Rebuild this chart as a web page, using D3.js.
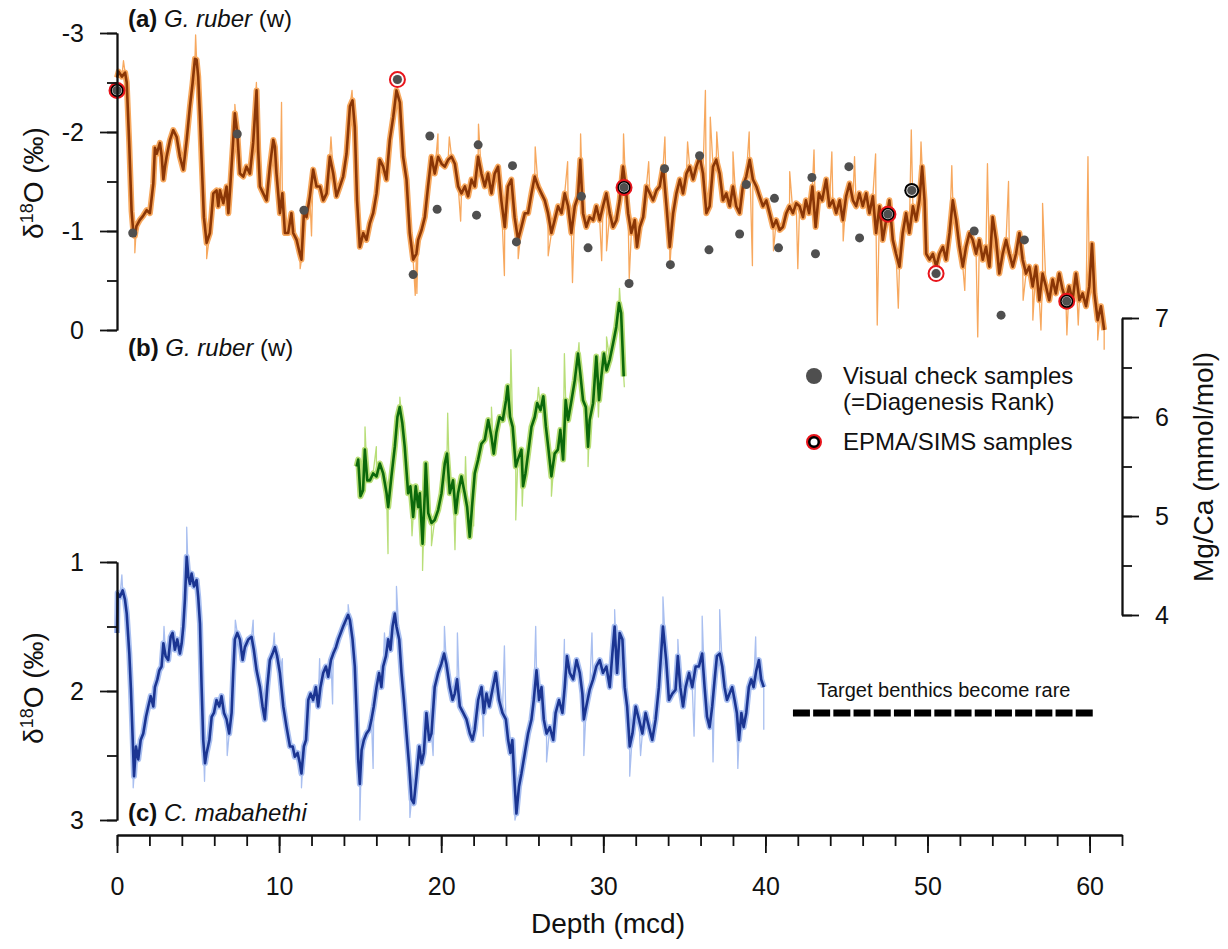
<!DOCTYPE html>
<html>
<head>
<meta charset="utf-8">
<script src="https://cdn.jsdelivr.net/npm/d3@7"></script>
<style>
  body { margin: 0; background: #fff; }
  svg text { font-family: "Liberation Sans", Arial, sans-serif; fill: #111; }
</style>
</head>
<body>
<svg id="chart" width="1228" height="949"></svg>
<script>
// (a) G. ruber d18O, depth (mcd) / permil
const ruberO18 = [[0,-2.55],[0.1,-2.61],[0.3,-2.56],[0.5,-2.6],[0.6,-2.5],[0.75,-1.9],[0.9,-1.2],[1.0,-1.0],[1.1,-0.95],[1.2,-1.05],[1.4,-1.11],[1.6,-1.15],[1.83,-1.21],[2.03,-1.18],[2.24,-1.48],[2.34,-1.84],[2.45,-1.78],[2.65,-1.89],[2.76,-1.75],[2.86,-1.52],[2.96,-1.65],[3.06,-1.75],[3.27,-1.92],[3.47,-2.02],[3.68,-1.95],[3.88,-1.75],[4.09,-1.62],[4.3,-1.92],[4.5,-2.26],[4.66,-2.49],[4.81,-2.74],[4.91,-2.73],[5.01,-2.56],[5.12,-2.15],[5.22,-1.72],[5.36,-1.14],[5.53,-0.88],[5.73,-0.98],[5.84,-1.18],[5.94,-1.38],[6.14,-1.41],[6.25,-1.25],[6.35,-1.41],[6.56,-1.28],[6.76,-1.45],[6.87,-1.18],[6.97,-1.41],[7.17,-1.92],[7.27,-2.19],[7.42,-1.99],[7.58,-1.58],[7.79,-1.55],[7.99,-1.65],[8.2,-1.58],[8.4,-1.89],[8.61,-2.42],[8.71,-1.82],[8.82,-1.45],[9.02,-1.38],[9.23,-1.31],[9.43,-1.65],[9.64,-1.92],[9.74,-1.85],[9.84,-1.58],[10.05,-1.18],[10.2,-1.38],[10.36,-0.98],[10.56,-0.98],[10.76,-1.18],[10.87,-0.98],[11.08,-0.91],[11.28,-0.77],[11.38,-0.71],[11.53,-1.18],[11.69,-1.14],[11.9,-1.35],[12.1,-1.62],[12.31,-1.45],[12.52,-1.45],[12.72,-1.31],[12.93,-1.38],[13.13,-1.75],[13.34,-1.58],[13.54,-1.35],[13.75,-1.45],[13.95,-1.55],[14.16,-1.78],[14.37,-2.26],[14.53,-2.32],[14.67,-2.05],[14.81,-1.31],[14.98,-0.84],[15.19,-0.98],[15.39,-0.91],[15.6,-1.08],[15.8,-1.18],[16.01,-1.38],[16.21,-1.72],[16.42,-1.65],[16.62,-1.52],[16.83,-1.92],[17.04,-2.15],[17.24,-2.42],[17.45,-2.3],[17.65,-1.75],[17.86,-1.52],[18.06,-0.98],[18.27,-0.71],[18.47,-0.77],[18.58,-0.91],[18.79,-1.01],[18.99,-1.14],[19.19,-1.45],[19.4,-1.75],[19.6,-1.58],[19.81,-1.75],[20.02,-1.68],[20.22,-1.65],[20.43,-1.72],[20.64,-1.75],[20.84,-1.68],[21.05,-1.45],[21.25,-1.38],[21.46,-1.45],[21.66,-1.35],[21.87,-1.52],[22.07,-1.45],[22.28,-1.75],[22.48,-1.58],[22.69,-1.45],[22.89,-1.58],[23.1,-1.38],[23.3,-1.58],[23.51,-1.65],[23.71,-1.31],[23.92,-1.04],[24.12,-1.45],[24.33,-1.52],[24.53,-1.14],[24.74,-0.91],[24.95,-1.04],[25.16,-1.18],[25.36,-1.18],[25.57,-1.38],[25.77,-1.55],[25.98,-1.45],[26.18,-1.38],[26.39,-1.31],[26.59,-1.18],[26.8,-0.98],[27.0,-1.11],[27.21,-1.25],[27.42,-1.18],[27.62,-1.38],[27.83,-1.25],[28.03,-0.98],[28.24,-1.25],[28.44,-1.35],[28.58,-1.72],[28.75,-1.18],[28.95,-1.04],[29.16,-1.14],[29.37,-1.11],[29.57,-1.25],[29.78,-1.11],[29.98,-1.25],[30.19,-1.38],[30.4,-1.18],[30.6,-1.04],[30.81,-1.11],[31.01,-1.31],[31.22,-1.65],[31.38,-1.45],[31.53,-1.18],[31.73,-0.98],[31.94,-1.11],[32.08,-0.84],[32.25,-1.04],[32.46,-1.14],[32.66,-1.45],[32.87,-1.38],[33.07,-1.31],[33.28,-1.41],[33.48,-1.45],[33.69,-1.65],[33.9,-1.25],[34.1,-0.84],[34.31,-1.18],[34.51,-1.38],[34.72,-1.52],[34.92,-1.38],[35.13,-1.58],[35.33,-1.65],[35.54,-1.52],[35.74,-1.65],[35.95,-1.75],[36.15,-1.58],[36.36,-1.18],[36.56,-1.25],[36.77,-1.65],[36.97,-1.72],[37.18,-1.58],[37.38,-1.31],[37.59,-1.38],[37.8,-1.25],[38.0,-1.45],[38.2,-1.25],[38.41,-1.18],[38.61,-1.45],[38.82,-1.55],[39.03,-1.72],[39.23,-1.52],[39.44,-1.45],[39.64,-1.35],[39.85,-1.25],[40.06,-1.31],[40.26,-1.18],[40.47,-1.04],[40.67,-1.11],[40.88,-1.01],[41.08,-1.04],[41.29,-1.18],[41.49,-1.25],[41.7,-1.18],[41.9,-1.28],[42.11,-1.25],[42.32,-1.14],[42.5,-1.31],[42.7,-1.18],[42.9,-1.45],[43.1,-1.04],[43.3,-1.38],[43.5,-1.31],[43.75,-1.52],[43.95,-1.25],[44.16,-1.31],[44.37,-1.18],[44.58,-1.31],[44.78,-1.11],[44.98,-1.35],[45.19,-1.48],[45.4,-1.31],[45.6,-1.25],[45.8,-1.38],[46.01,-1.25],[46.22,-1.38],[46.42,-1.18],[46.63,-1.35],[46.83,-0.98],[47.04,-1.25],[47.24,-0.91],[47.45,-1.11],[47.65,-1.31],[47.86,-0.91],[48.06,-0.77],[48.27,-0.64],[48.47,-0.98],[48.68,-1.18],[48.88,-0.98],[49.1,-1.25],[49.3,-1.11],[49.5,-1.31],[49.67,-1.65],[49.82,-1.31],[49.92,-0.77],[50.13,-0.71],[50.33,-0.77],[50.54,-0.64],[50.74,-0.77],[50.95,-0.84],[51.15,-0.71],[51.36,-0.98],[51.56,-1.31],[51.77,-1.11],[51.97,-0.84],[52.18,-0.64],[52.38,-0.84],[52.59,-0.98],[52.79,-0.91],[53.0,-0.77],[53.2,-0.91],[53.41,-0.71],[53.61,-0.84],[53.82,-0.64],[54.02,-1.14],[54.23,-0.91],[54.43,-0.57],[54.64,-0.77],[54.85,-0.91],[55.05,-0.77],[55.26,-0.64],[55.46,-0.77],[55.67,-0.98],[55.87,-0.71],[56.08,-0.57],[56.28,-0.64],[56.49,-0.44],[56.69,-0.64],[56.9,-0.3],[57.1,-0.57],[57.31,-0.44],[57.51,-0.3],[57.72,-0.51],[57.92,-0.37],[58.13,-0.57],[58.33,-0.41],[58.54,-0.3],[58.74,-0.44],[58.95,-0.3],[59.16,-0.57],[59.37,-0.3],[59.57,-0.37],[59.78,-0.24],[59.98,-0.44],[60.15,-0.87],[60.3,-0.37],[60.5,-0.1],[60.7,-0.24],[60.9,0.0]];
const ruberO18Spikes = [[0.4,-2.72],[1.1,-0.78],[4.85,-2.98],[5.53,-0.72],[7.27,-2.28],[8.6,-2.5],[10.15,-2.3],[11.3,-0.62],[12.0,-0.95],[13.2,-1.95],[14.5,-2.42],[16.8,-2.0],[18.4,-0.35],[18.5,-0.37],[19.8,-1.98],[20.5,-1.95],[21.2,-1.1],[22.3,-2.08],[23.9,-0.55],[24.75,-0.72],[25.8,-1.85],[26.6,-0.75],[27.8,-1.7],[28.1,-0.48],[28.6,-1.98],[29.9,-0.7],[30.2,-0.8],[31.25,-1.98],[31.6,-0.52],[32.8,-1.7],[33.8,-1.95],[34.1,-0.62],[35.2,-1.9],[36.3,-2.42],[36.6,-2.15],[37.0,-2.0],[38.0,-1.8],[39.0,-2.0],[39.2,-0.65],[40.5,-0.8],[41.5,-1.6],[42.0,-0.62],[43.0,-1.82],[44.1,-1.8],[44.8,-0.9],[45.5,-1.75],[46.8,-1.78],[46.9,-0.05],[48.2,-0.22],[49.0,-2.02],[49.6,-1.9],[51.5,-1.66],[52.3,-0.4],[53.1,0.07],[53.7,-1.68],[55.0,-1.5],[55.9,-0.3],[56.5,-0.1],[57.0,0.0],[57.1,-1.28],[58.6,0.05],[59.3,-0.05],[59.9,-1.75],[60.5,0.1],[60.9,0.2]];

// visual check samples (grey dots)
const visualSamples = [[0.0,-2.42],[0.97,-0.98],[7.42,-1.98],[11.53,-1.21],[17.3,-2.53],[18.27,-0.56],[19.3,-1.96],[19.75,-1.22],[22.28,-1.87],[22.18,-1.16],[24.4,-1.66],[24.64,-0.89],[28.65,-1.35],[29.06,-0.83],[31.28,-1.44],[31.59,-0.47],[33.78,-1.63],[34.14,-0.66],[35.94,-1.76],[36.52,-0.81],[38.82,-1.47],[38.41,-0.97],[40.56,-1.33],[40.81,-0.83],[42.87,-1.54],[43.09,-0.77],[45.15,-1.65],[45.81,-0.93],[47.56,-1.17],[49.03,-1.41],[50.53,-0.57],[52.88,-1.0],[54.54,-0.15],[55.98,-0.91],[58.59,-0.29]];
// EPMA/SIMS samples: [depth, value, inner ring colour]
const epmaSamples = [[0.0,-2.42,"#000"],[17.3,-2.53,"#fff"],[31.28,-1.44,"#000"],[47.56,-1.17,"#000"],[50.53,-0.57,"#fff"],[58.59,-0.29,"#000"]];
const blackRingSamples = [[49.03,-1.41]];

// (b) G. ruber Mg/Ca (mmol/mol)
const ruberMgCa = [[14.78,5.5],[14.88,5.57],[15.02,5.2],[15.18,5.26],[15.29,5.67],[15.44,5.36],[15.6,5.36],[15.8,5.43],[16.01,5.4],[16.21,5.53],[16.42,5.43],[16.63,5.23],[16.73,5.09],[16.93,5.4],[17.14,5.7],[17.3,6.0],[17.44,6.1],[17.6,5.94],[17.75,5.7],[17.96,5.23],[18.1,5.3],[18.27,4.99],[18.43,5.3],[18.58,5.09],[18.68,5.23],[18.85,4.72],[18.99,5.23],[19.05,5.53],[19.2,5.03],[19.4,4.93],[19.6,4.96],[19.81,5.06],[20.02,5.23],[20.22,5.53],[20.36,5.63],[20.53,5.23],[20.73,5.36],[20.9,5.03],[21.04,5.23],[21.25,5.4],[21.45,5.23],[21.6,5.09],[21.76,4.79],[21.92,5.13],[22.07,5.43],[22.28,5.57],[22.48,5.73],[22.69,5.77],[22.9,5.97],[23.1,5.8],[23.24,5.63],[23.4,5.84],[23.6,6.0],[23.8,5.97],[24.0,6.17],[24.1,6.31],[24.25,6.0],[24.41,5.9],[24.6,5.5],[24.73,5.57],[24.95,5.67],[25.05,5.3],[25.2,5.43],[25.36,5.63],[25.57,5.9],[25.77,6.0],[25.92,6.14],[26.13,6.07],[26.3,6.21],[26.46,5.9],[26.6,5.7],[26.8,5.4],[27.0,5.63],[27.2,5.67],[27.35,5.87],[27.52,5.57],[27.68,6.17],[27.83,5.97],[28.04,6.17],[28.24,6.37],[28.44,6.64],[28.58,6.44],[28.75,6.17],[28.92,6.1],[29.06,5.7],[29.16,5.97],[29.37,6.14],[29.57,6.61],[29.74,6.17],[29.88,6.41],[30.04,6.64],[30.2,6.47],[30.4,6.58],[30.6,6.74],[30.8,6.91],[30.97,7.15],[31.1,7.05],[31.26,6.41]];
const ruberMgCaSpikes = [[15.3,5.9],[16.0,5.7],[16.72,4.62],[17.45,6.2],[18.2,4.8],[18.85,4.45],[19.4,4.7],[20.4,6.04],[20.85,4.66],[21.5,5.6],[22.0,4.9],[23.1,6.1],[24.3,6.68],[24.6,4.96],[25.0,5.1],[26.0,6.3],[26.8,5.2],[27.6,6.64],[28.5,6.75],[29.06,5.5],[29.7,6.0],[30.2,6.81],[31.0,7.3],[31.3,6.3]];

// (c) C. mabahethi d18O
const benthicO18 = [[0,1.55],[0.04,1.24],[0.18,1.27],[0.35,1.22],[0.49,1.29],[0.6,1.4],[0.76,1.71],[0.86,1.99],[0.97,2.38],[1.05,2.66],[1.17,2.43],[1.31,2.53],[1.46,2.38],[1.62,2.33],[1.79,2.2],[1.93,2.12],[2.08,2.04],[2.24,2.12],[2.34,1.97],[2.49,1.91],[2.61,1.84],[2.75,1.81],[2.86,1.63],[3.0,1.73],[3.16,1.76],[3.31,1.58],[3.43,1.55],[3.57,1.68],[3.72,1.6],[3.88,1.71],[3.99,1.63],[4.09,1.5],[4.19,1.29],[4.3,0.96],[4.4,1.11],[4.5,1.17],[4.6,1.09],[4.75,1.19],[4.91,1.14],[5.01,1.27],[5.12,1.48],[5.22,1.97],[5.32,2.38],[5.43,2.56],[5.53,2.48],[5.7,2.38],[5.84,2.2],[5.98,2.17],[6.14,2.07],[6.31,2.12],[6.45,2.04],[6.6,2.17],[6.76,2.22],[6.92,2.33],[7.07,2.17],[7.17,1.86],[7.27,1.6],[7.42,1.55],[7.58,1.6],[7.75,1.76],[7.89,1.66],[8.1,1.6],[8.3,1.58],[8.44,1.68],[8.61,1.84],[8.82,1.97],[8.98,2.12],[9.12,2.22],[9.27,1.97],[9.43,1.76],[9.6,1.71],[9.74,1.66],[9.88,1.73],[10.05,1.86],[10.26,2.12],[10.46,2.28],[10.67,2.43],[10.84,2.43],[10.97,2.51],[11.14,2.48],[11.28,2.56],[11.38,2.64],[11.53,2.43],[11.66,2.38],[11.8,2.07],[11.94,2.02],[12.1,2.07],[12.27,1.97],[12.41,2.12],[12.55,1.97],[12.72,1.86],[12.89,1.81],[13.03,1.89],[13.2,1.76],[13.34,1.71],[13.51,1.66],[13.65,1.6],[13.8,1.55],[13.95,1.5],[14.12,1.45],[14.26,1.41],[14.37,1.45],[14.53,1.6],[14.67,1.81],[14.78,2.17],[14.88,2.53],[14.98,2.72],[15.09,2.46],[15.23,2.38],[15.39,2.33],[15.56,2.3],[15.7,2.22],[15.84,2.12],[16.01,1.97],[16.17,1.86],[16.31,1.97],[16.42,1.81],[16.59,1.73],[16.73,1.6],[16.87,1.68],[17.0,1.5],[17.14,1.4],[17.24,1.5],[17.41,1.6],[17.55,1.86],[17.7,2.07],[17.86,2.33],[18.03,2.59],[18.17,2.84],[18.31,2.87],[18.48,2.66],[18.65,2.43],[18.79,2.56],[18.93,2.48],[19.09,2.17],[19.26,2.38],[19.4,2.33],[19.6,1.97],[19.81,1.86],[20.01,1.79],[20.18,1.71],[20.32,1.79],[20.53,1.97],[20.7,2.07],[20.84,2.02],[20.98,1.91],[21.15,2.12],[21.36,2.17],[21.56,2.22],[21.77,2.33],[21.93,2.38],[22.07,2.3],[22.28,2.07],[22.49,1.97],[22.63,2.17],[22.79,2.02],[22.96,2.12],[23.16,1.99],[23.37,1.86],[23.57,2.07],[23.78,2.17],[23.99,2.22],[24.13,2.38],[24.27,2.48],[24.39,2.38],[24.54,2.74],[24.64,2.95],[24.8,2.74],[24.95,2.64],[25.16,2.48],[25.36,2.33],[25.57,2.22],[25.71,2.07],[25.88,1.84],[26.04,2.07],[26.19,1.97],[26.33,2.22],[26.5,2.33],[26.7,2.28],[26.91,2.38],[27.06,2.17],[27.27,2.07],[27.48,2.17],[27.62,1.97],[27.76,1.73],[27.93,1.86],[28.14,1.91],[28.35,1.76],[28.55,1.86],[28.71,2.02],[28.8,2.22],[28.95,2.12],[29.16,1.99],[29.37,1.91],[29.57,1.81],[29.78,1.76],[29.98,1.86],[30.19,1.81],[30.4,1.97],[30.56,1.71],[30.7,1.5],[30.85,1.86],[31.01,1.55],[31.18,1.6],[31.32,1.97],[31.47,2.12],[31.63,2.43],[31.8,2.33],[32.0,2.12],[32.2,2.22],[32.41,2.33],[32.61,2.17],[32.82,2.28],[33.02,2.38],[33.23,2.22],[33.43,1.97],[33.68,1.5],[33.88,1.76],[34.05,2.07],[34.26,2.02],[34.46,1.99],[34.6,1.73],[34.75,1.97],[34.92,2.12],[35.08,1.97],[35.29,1.86],[35.49,1.97],[35.7,1.81],[35.9,1.81],[36.1,1.71],[36.25,1.97],[36.4,2.2],[36.56,2.28],[36.72,2.12],[36.87,1.91],[37.01,1.73],[37.18,1.71],[37.34,1.81],[37.48,1.97],[37.63,2.07],[37.79,2.02],[37.95,1.97],[38.1,2.07],[38.24,2.17],[38.37,2.38],[38.52,2.17],[38.66,2.28],[38.82,2.17],[38.98,1.97],[39.13,1.91],[39.27,1.97],[39.44,1.84],[39.6,1.76],[39.74,1.91],[39.9,1.97]];
const benthicO18Spikes = [[0.3,1.1],[1.0,2.75],[2.9,1.5],[4.3,0.73],[5.4,2.7],[6.8,2.5],[7.3,1.45],[8.4,1.45],[9.7,1.55],[10.2,1.75],[11.38,2.75],[12.5,1.75],[13.3,2.1],[14.26,1.33],[14.98,3.0],[15.8,2.6],[16.5,1.55],[17.24,1.19],[18.07,2.98],[19.5,2.5],[20.2,1.5],[21.0,1.55],[22.6,2.35],[23.9,1.65],[24.55,3.0],[25.83,1.5],[26.5,2.55],[27.6,1.6],[28.8,2.5],[29.3,1.55],[30.7,1.37],[31.63,2.66],[32.3,2.5],[33.68,1.27],[34.6,1.6],[35.6,2.35],[36.1,1.42],[36.77,2.55],[37.18,1.37],[38.3,2.6],[39.4,1.58],[39.9,2.3]];

// depth range where target benthics become rare, at d18O level
const rareRange = [41.7, 60.3];
const rareLevel = 2.17;

const depthMinor = d3.range(0, 63, 2);
const depthMajor = [0, 10, 20, 30, 40, 50, 60];

const svg = d3.select("#chart");
const x = d3.scaleLinear().domain([0, 62]).range([117, 1122]);
const yA = d3.scaleLinear().domain([-3, 0]).range([33, 330]);
const yB = d3.scaleLinear().domain([4, 7]).range([615, 318]);
const yC = d3.scaleLinear().domain([1, 3]).range([562, 820]);

function drawSeries(data, spikes, y, dark, light) {
    const line = d3.line().x(d => x(d[0])).y(d => y(d[1]));
    const merged = data.concat(spikes).sort((a, b) => a[0] - b[0]);
    const g = svg.append("g").attr("fill", "none").attr("stroke-linejoin", "round");
    g.append("path").attr("d", line(merged)).attr("stroke", light).attr("stroke-width", 1.3);
    g.append("path").attr("d", line(data)).attr("stroke", light).attr("stroke-width", 6);
    g.append("path").attr("d", line(data)).attr("stroke", dark).attr("stroke-width", 2.6);
}

drawSeries(ruberO18, ruberO18Spikes, yA, "#8a3606", "#f7a85e");
drawSeries(ruberMgCa, ruberMgCaSpikes, yB, "#0b690b", "#b8de78");
drawSeries(benthicO18, benthicO18Spikes, yC, "#1b3592", "#a9bff0");

// sample markers
const gm = svg.append("g");
blackRingSamples.forEach(d => {
    gm.append("circle").attr("cx", x(d[0])).attr("cy", yA(d[1])).attr("r", 7.5).attr("fill", "#000");
    gm.append("circle").attr("cx", x(d[0])).attr("cy", yA(d[1])).attr("r", 5.5).attr("fill", "#ddd");
});
epmaSamples.forEach(d => {
    gm.append("circle").attr("cx", x(d[0])).attr("cy", yA(d[1])).attr("r", 7.5)
        .attr("fill", d[2]).attr("stroke", "#e8141b").attr("stroke-width", 2);
    gm.append("circle").attr("cx", x(d[0])).attr("cy", yA(d[1])).attr("r", 5).attr("fill", "#ddd");
});
gm.selectAll(".dot").data(visualSamples).enter().append("circle")
    .attr("cx", d => x(d[0])).attr("cy", d => yA(d[1])).attr("r", 4.5).attr("fill", "#4f4f4f");

// axes
function styleAxis(g) {
    g.selectAll("path,line").attr("stroke", "#111").attr("stroke-width", 1.8);
    g.selectAll("text").attr("font-size", 25).attr("fill", "#111")
        .attr("font-family", "Liberation Sans, Arial, sans-serif");
}
function leftAxis(y, minor, major, px) {
    svg.append("g").attr("transform", `translate(${px},0)`)
        .call(d3.axisLeft(y).tickValues(minor).tickSize(10).tickSizeOuter(0).tickFormat(""))
        .call(styleAxis);
    svg.append("g").attr("transform", `translate(${px},0)`)
        .call(d3.axisLeft(y).tickValues(major).tickSize(17).tickSizeOuter(0).tickPadding(16).tickFormat(d => String(d)))
        .call(styleAxis);
}
leftAxis(yA, d3.range(-3, 0.01, 0.5), [-3, -2, -1, 0], 117);
leftAxis(yC, [1, 1.5, 2, 2.5, 3], [1, 2, 3], 117);

svg.append("g").attr("transform", "translate(1122,0)")
    .call(d3.axisRight(yB).tickValues([4, 4.5, 5, 5.5, 6, 6.5, 7]).tickSize(10).tickSizeOuter(0).tickFormat(""))
    .call(styleAxis);
svg.append("g").attr("transform", "translate(1122,0)")
    .call(d3.axisRight(yB).tickValues([4, 5, 6, 7]).tickSize(17).tickSizeOuter(0).tickPadding(16).tickFormat(d => String(d)))
    .call(styleAxis);

svg.append("g").attr("transform", "translate(0,835)")
    .call(d3.axisBottom(x).tickValues(depthMinor).tickSize(11).tickSizeOuter(0).tickFormat(""))
    .call(styleAxis);
svg.append("g").attr("transform", "translate(0,835)")
    .call(d3.axisBottom(x).tickValues(depthMajor).tickSize(18).tickSizeOuter(0).tickPadding(24))
    .call(styleAxis);

// axis titles
svg.append("text").attr("x", 608).attr("y", 933).attr("text-anchor", "middle")
    .attr("font-size", 28).text("Depth (mcd)");

function o18Title(cy) {
    const t = svg.append("text").attr("transform", `translate(43,${cy}) rotate(-90)`)
        .attr("text-anchor", "middle").attr("font-size", 28);
    t.append("tspan").text("δ");
    t.append("tspan").attr("font-size", 18).attr("dy", -10).text("18");
    t.append("tspan").attr("dy", 10).text("O (‰)");
}
o18Title(183);
o18Title(688);

svg.append("text").attr("transform", "translate(1213,467) rotate(-90)")
    .attr("text-anchor", "middle").attr("font-size", 28).text("Mg/Ca (mmol/mol)");

// panel labels
function panelLabel(ty, tag, species) {
    const t = svg.append("text").attr("x", 128).attr("y", ty).attr("font-size", 24);
    t.append("tspan").attr("font-weight", "bold").text(tag);
    t.append("tspan").attr("font-style", "italic").text(" " + species);
    return t;
}
panelLabel(27, "(a)", "G. ruber").append("tspan").text(" (w)");
panelLabel(356, "(b)", "G. ruber").append("tspan").text(" (w)");
panelLabel(821, "(c)", "C. mabahethi");

// legend
const lg = svg.append("g");
lg.append("circle").attr("cx", 814).attr("cy", 376).attr("r", 8).attr("fill", "#4f4f4f");
lg.append("text").attr("x", 843).attr("y", 384).attr("font-size", 24).text("Visual check samples");
lg.append("text").attr("x", 843).attr("y", 410).attr("font-size", 24).text("(=Diagenesis Rank)");
lg.append("circle").attr("cx", 814).attr("cy", 442).attr("r", 7).attr("fill", "#000")
    .attr("stroke", "#e8141b").attr("stroke-width", 2);
lg.append("circle").attr("cx", 814).attr("cy", 442).attr("r", 3.5).attr("fill", "#fff");
lg.append("text").attr("x", 843).attr("y", 450).attr("font-size", 24).text("EPMA/SIMS samples");

// target benthics become rare
svg.append("text").attr("x", (x(rareRange[0]) + x(rareRange[1])) / 2).attr("y", 697)
    .attr("text-anchor", "middle").attr("font-size", 20).text("Target benthics become rare");
svg.append("line").attr("x1", x(rareRange[0])).attr("x2", x(rareRange[1]))
    .attr("y1", yC(rareLevel)).attr("y2", yC(rareLevel))
    .attr("stroke", "#000").attr("stroke-width", 7).attr("stroke-dasharray", "17,3.2");
</script>
</body>
</html>
